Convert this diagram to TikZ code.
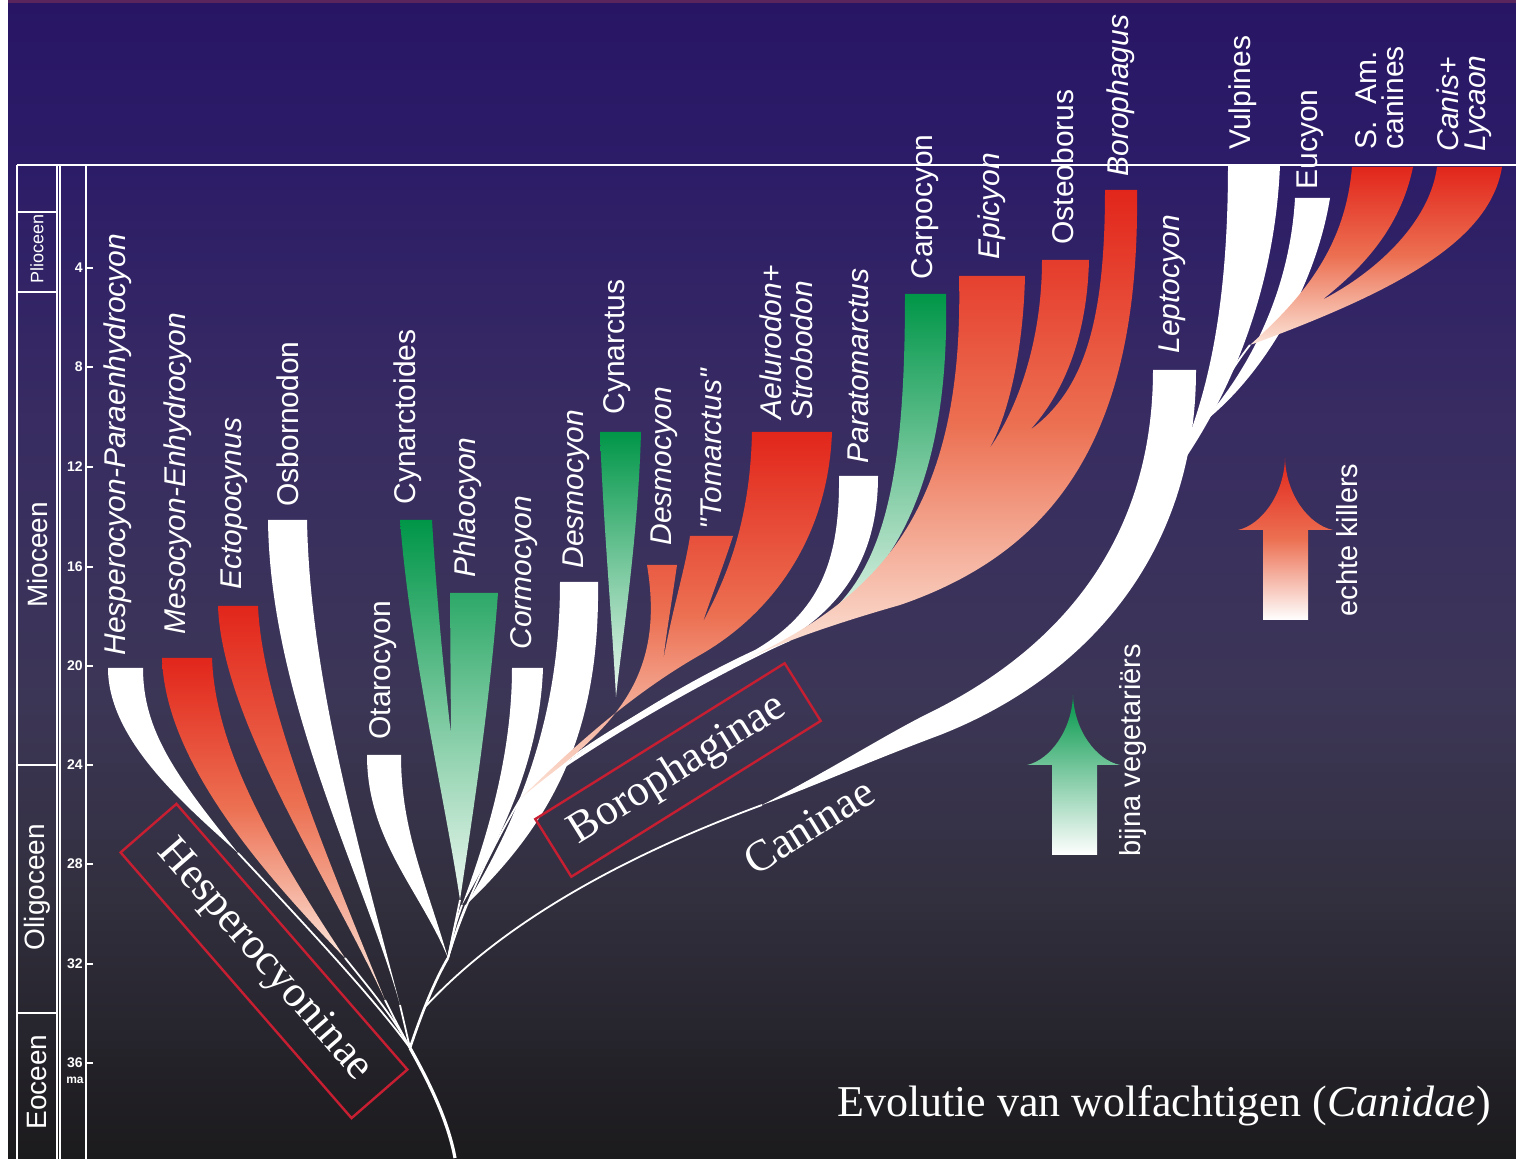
\documentclass[tikz,border=0pt]{standalone}
\usepackage{fontspec}
\setmainfont{Liberation Serif}
\newfontfamily\lsans{Liberation Sans}
\definecolor{bg0}{RGB}{40,22,100}
\definecolor{bg1}{RGB}{44,28,104}
\definecolor{bg2}{RGB}{56,44,98}
\definecolor{bg3}{RGB}{60,54,86}
\definecolor{bg4}{RGB}{50,47,62}
\definecolor{bg5}{RGB}{27,26,28}
\definecolor{hred}{RGB}{226,38,28}
\definecolor{hsal}{RGB}{236,112,82}
\definecolor{hpale}{RGB}{252,230,218}
\definecolor{hgreen}{RGB}{0,150,72}
\definecolor{gpale}{RGB}{236,248,240}
\definecolor{boxred}{RGB}{200,30,50}
\definecolor{topband}{RGB}{90,36,92}
\begin{document}
\begin{tikzpicture}[x=0.5pt,y=-0.5pt,
  tline/.style={draw=white, line width=0.9pt},
  rhorn/.style={top color=hred, bottom color=hpale, middle color=hsal},
  ghorn/.style={top color=hgreen, bottom color=gpale},
  lab/.style={text=white, font=\lsans\fontsize{15}{14.5}\selectfont\itshape, rotate=90, anchor=west, inner sep=0pt, align=left},
  labu/.style={lab, font=\lsans\fontsize{15}{14.5}\selectfont},
  scl/.style={draw=white, line width=0.8pt},
  ticklab/.style={text=white, font=\lsans\bfseries\fontsize{7}{7}\selectfont, anchor=east, inner sep=0pt},
  epoch/.style={text=white, font=\lsans\fontsize{14}{14}\selectfont, rotate=90, inner sep=0pt},
  grp/.style={text=white, font=\fontsize{22}{22}\selectfont, draw=boxred, line width=1.2pt, inner sep=0pt},
  arrowlab/.style={text=white, font=\lsans\fontsize{14.5}{14.5}\selectfont, rotate=90, anchor=west, inner sep=0pt}
]
\useasboundingbox (0,0) rectangle (1516,1159);
\clip (0,0) rectangle (1516,1159);
% background
\shade[top color=bg0, bottom color=bg1] (0,0) rectangle (1516,166);
\shade[top color=bg1, bottom color=bg2] (0,165) rectangle (1516,421);
\shade[top color=bg2, bottom color=bg3] (0,420) rectangle (1516,701);
\shade[top color=bg3, bottom color=bg4] (0,700) rectangle (1516,901);
\shade[top color=bg4, bottom color=bg5] (0,900) rectangle (1516,1159);
\fill[topband] (0,0) rectangle (1516,3);
\fill[white] (0,0) rectangle (8,1159);

% time scale
\draw[scl] (17,165) -- (17,1159);
\draw[scl] (57,165) -- (57,1159);
\draw[scl] (60,165) -- (60,1159);
\draw[scl] (86,165) -- (86,1159);
\draw[scl] (17,165) -- (1516,165);
\foreach \yy in {212,292,765,1013} {\draw[scl] (17,\yy) -- (57,\yy);}
\foreach \v/\yy in {4/268,8/367,12/467,16/567,20/666,24/765,28/864,32/964,36/1063} {
  \draw[scl] (86,\yy) -- (93,\yy);
  \node[ticklab] (t\v) at (83,\yy) {\v};
}
\node[ticklab, font=\lsans\bfseries\fontsize{6}{6}\selectfont] (tma) at (84,1080) {ma};
\node[epoch, font=\lsans\fontsize{9}{9}\selectfont] (ePlio) at (37,249) {Plioceen};
\node[epoch] (eMio) at (37,555) {Mioceen};
\node[epoch] (eOli) at (37,887) {Oligoceen};
\node[epoch] (eEo) at (37,1082) {Eoceen};

% junction coordinates
\coordinate (root) at (455,1158);
\coordinate (J0) at (410,1048);
\coordinate (J2) at (448,958);
\coordinate (canJ) at (425,1007);
\coordinate (T) at (521,798);
\coordinate (TB) at (745,660);
\coordinate (TC) at (1250,345);
\coordinate (hespT) at (238,853);
\coordinate (mesoT) at (345,958);
\coordinate (ectoT) at (385,1000);
\coordinate (osbT) at (400,1005);
\coordinate (greenT) at (460,900);
\coordinate (cormT) at (462,905);
\coordinate (desT) at (466,905);
\coordinate (carpT) at (790,640);
\coordinate (lepT) at (762,805);
\coordinate (vulT) at (1170,480);
\coordinate (eucT) at (1200,425);
\coordinate (lepJ) at (1128,590);

% connecting lines
\draw[tline, line width=1.6pt] (J0) .. controls (428,1080) and (448,1120) .. (root);
\draw[tline] (hespT) .. controls (310,930) and (375,1000) .. (J0);
\draw[tline] (mesoT) .. controls (375,995) and (395,1020) .. (J0);
\draw[tline] (ectoT) .. controls (395,1020) .. (J0);
\draw[tline] (osbT) -- (J0);
\draw[tline, line width=1.3pt] (J0) .. controls (422,1012) and (435,980) .. (J2);
\draw[tline] (greenT) -- (J2);
\draw[tline] (cormT) .. controls (455,925) .. (J2);
\draw[tline] (desT) .. controls (458,925) .. (J2);
\draw[tline] (T) .. controls (490,850) and (462,910) .. (J2);
\draw[tline] (TB) .. controls (650,705) and (580,745) .. (T);
\draw[tline] (carpT) .. controls (700,680) and (600,735) .. (T);
\draw[tline] (canJ) .. controls (510,915) and (640,850) .. (lepT);
\draw[tline] (vulT) .. controls (1155,520) and (1140,560) .. (lepJ);
\draw[tline] (eucT) .. controls (1175,470) and (1150,540) .. (lepJ);
\draw[tline] (TC) .. controls (1230,370) and (1215,400) .. (eucT);

% Hesperocyoninae
\fill[white] (108,668) -- (143,668) .. controls (143,730) and (175,775) .. (hespT) .. controls (185,805) and (108,740) .. cycle;
\shade[rhorn] (162,658) -- (212,658) .. controls (215,740) and (260,830) .. (mesoT) .. controls (260,870) and (165,760) .. cycle;
\shade[rhorn] (218,606) -- (258,606) .. controls (262,700) and (320,840) .. (ectoT) .. controls (330,880) and (222,720) .. cycle;
\fill[white] (268,520) -- (307,520) .. controls (310,680) and (360,850) .. (osbT) .. controls (365,880) and (270,700) .. cycle;

% Borophaginae
\fill[white] (367,755) -- (401,755) .. controls (401,830) and (425,880) .. (J2) .. controls (420,890) and (367,840) .. cycle;
\shade[ghorn] (400,520) -- (432,520) .. controls (438,620) and (446,690) .. (451,735) -- (450,593) -- (498,593) .. controls (490,700) and (475,800) .. (greenT) .. controls (445,800) and (410,650) .. cycle;
\fill[white] (512,668) -- (543,668) .. controls (540,760) and (500,840) .. (cormT) .. controls (490,830) and (512,750) .. cycle;
\fill[white] (560,582) -- (598,582) .. controls (600,730) and (555,820) .. (desT) .. controls (530,800) and (560,700) .. cycle;
\shade[ghorn] (600,432) -- (641,432) .. controls (638,540) and (622,640) .. (616,697) .. controls (612,620) and (603,520) .. cycle;
\shade[rhorn] (T) .. controls (600,735) and (668,690) .. (647,565) -- (677,565) .. controls (672,600) and (666,635) .. (663,662) .. controls (672,610) and (685,570) .. (690,536) -- (733,536) .. controls (722,570) and (710,600) .. (703,622) .. controls (722,585) and (750,530) .. (752,432) -- (832,432) .. controls (828,540) and (770,615) .. (700,655) .. controls (630,695) and (570,750) .. cycle;
\fill[white] (839,476) -- (878,476) .. controls (878,570) and (830,620) .. (760,655) .. controls (690,690) and (600,740) .. (T) .. controls (600,732) and (690,680) .. (755,650) .. controls (820,612) and (840,560) .. cycle;
\shade[ghorn] (905,294) -- (946,294) .. controls (950,480) and (895,590) .. (carpT) .. controls (880,595) and (905,500) .. cycle;
\shade[rhorn] (TB) .. controls (870,600) and (965,520) .. (959,276) -- (1025,276) .. controls (1023,360) and (1005,425) .. (987,452) .. controls (1018,410) and (1042,340) .. (1042,260) -- (1089,260) .. controls (1087,340) and (1062,395) .. (1030,430) .. controls (1085,390) and (1105,320) .. (1105,190) -- (1137,190) .. controls (1140,430) and (1060,550) .. (900,605) .. controls (830,625) and (780,643) .. cycle;

% Caninae
\fill[white] (1153,370) -- (1196,370) .. controls (1196,560) and (1080,680) .. (940,735) .. controls (860,765) and (805,790) .. (lepT) .. controls (830,770) and (880,738) .. (925,715) .. controls (1060,650) and (1153,540) .. cycle;
\fill[white] (1228,165) -- (1280,165) .. controls (1275,290) and (1230,400) .. (vulT) .. controls (1210,400) and (1228,300) .. cycle;
\fill[white] (1295,198) -- (1330,198) .. controls (1315,290) and (1260,380) .. (eucT) .. controls (1250,370) and (1290,290) .. cycle;
\shade[rhorn] (TC) .. controls (1300,300) and (1345,250) .. (1352,167) -- (1413,167) .. controls (1400,230) and (1360,270) .. (1322,300) .. controls (1380,270) and (1430,220) .. (1437,167) -- (1502,167) .. controls (1490,240) and (1400,290) .. cycle;

% branch labels
\node[lab] (lHesp) at (118,656) {Hesperocyon-Paraenhydrocyon};
\node[lab] (lMeso) at (178,635) {Mesocyon-Enhydrocyon};
\node[lab] (lEcto) at (234,590) {Ectopocynus};
\node[labu] (lOsb) at (288,507) {Osbornodon};
\node[labu] (lOta) at (383,740) {Otarocyon};
\node[labu] (lCyd) at (408,505) {Cynarctoides};
\node[lab] (lPhl) at (468,578) {Phlaocyon};
\node[lab] (lCor) at (524,650) {Cormocyon};
\node[lab] (lDes1) at (576,569) {Desmocyon};
\node[labu] (lCyn) at (617,415) {Cynarctus};
\node[lab] (lDes2) at (664,546) {Desmocyon};
\node[lab] (lTom) at (711,530) {"Tomarctus"};
\node[lab, font=\lsans\fontsize{15}{15.5}\selectfont\itshape] (lAel) at (786,420) {Aelurodon+\\Strobodon};
\node[lab] (lPar) at (858,464) {Paratomarctus};
\node[labu] (lCarp) at (925,280) {Carpocyon};
\node[lab] (lEpi) at (992,260) {Epicyon};
\node[labu] (lOst) at (1063,245) {Osteoborus};
\node[lab] (lBor) at (1121,177) {Borophagus};
\node[lab] (lLep) at (1172,354) {Leptocyon};
\node[labu] (lVul) at (1243,150) {Vulpines};
\node[labu] (lEuc) at (1310,190) {Eucyon};
\node[labu, font=\lsans\fontsize{15}{13.5}\selectfont] (lSam) at (1380,150) {S.~~Am.\\canines};
\node[lab, font=\lsans\fontsize{15}{13.5}\selectfont\itshape] (lCan) at (1464,152) {Canis+\\Lycaon};

% group labels
\node[grp, rotate=-49, minimum width=176pt, minimum height=37pt] (gHesp) at (264,961) {Hesperocyoninae};
\node[grp, rotate=32, minimum width=147pt, minimum height=34pt] (gBoro) at (678,770) {Borophaginae};
\node[grp, draw=none, rotate=32] (gCan) at (809,826) {Caninae};

% arrows
\shade[top color=hgreen, bottom color=white] (1052,855) -- (1052,765) -- (1027,765) .. controls (1050,760) and (1072,730) .. (1073,695) .. controls (1074,730) and (1096,760) .. (1120,765) -- (1097,765) -- (1097,855) -- cycle;
\node[arrowlab] (aVeg) at (1133,857) {bijna vegetariërs};
\shade[top color=hred, bottom color=white, middle color=hsal] (1263,620) -- (1263,530) -- (1238,530) .. controls (1261,525) and (1284,495) .. (1285,458) .. controls (1286,495) and (1309,525) .. (1333,530) -- (1308,530) -- (1308,620) -- cycle;
\node[arrowlab] (aKil) at (1347,617) {echte killers};

% title
\node[text=white, font=\fontsize{22}{22}\selectfont, inner sep=0pt] (title) at (1164,1106) {Evolutie van wolfachtigen (\textit{Canidae})};
\end{tikzpicture}
\end{document}
